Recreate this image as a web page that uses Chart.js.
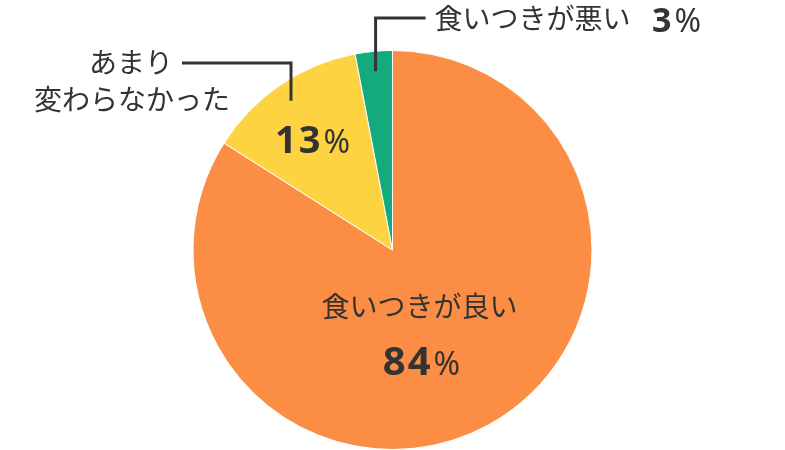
<!DOCTYPE html>
<html lang="ja">
<head>
  <meta charset="UTF-8">
  <title>食いつき</title>
  <script src="https://cdn.jsdelivr.net/npm/chart.js"></script>
  <style>
    html, body { margin: 0; padding: 0; background: #fff; }
    #wrap { width: 785px; height: 450px; position: relative; }
  </style>
</head>
<body>
<div id="wrap"><canvas id="pie"></canvas></div>

<script>
  // data
  const labels = ['食いつきが良い', 'あまり変わらなかった', '食いつきが悪い'];
  const values = [84, 13, 3];
  const colors = ['#FC8D45', '#FDD342', '#13AA7D'];

  const textColor = '#333333';
  const jpFont = '"Noto Sans CJK JP", "Noto Sans", sans-serif';
  const numFont = '"Noto Sans", "Open Sans", sans-serif';

  // number in bold + smaller "%" sitting on the same baseline, centred on x
  function drawValue(ctx, value, x, baseline, numSize, pctSize) {
    const num = String(value);
    ctx.letterSpacing = '2px';
    ctx.font = `bold ${numSize}px ${numFont}`;
    const wNum = ctx.measureText(num).width;
    ctx.letterSpacing = '0px';
    ctx.font = `${pctSize}px ${numFont}`;
    const wPct = ctx.measureText('%').width;
    const gap = 1;
    const left = x - (wNum + gap + wPct) / 2;
    ctx.textAlign = 'left';
    ctx.textBaseline = 'alphabetic';
    ctx.letterSpacing = '2px';
    ctx.font = `bold ${numSize}px ${numFont}`;
    ctx.fillText(num, left, baseline);
    ctx.letterSpacing = '0px';
    ctx.font = `${pctSize}px ${numFont}`;
    ctx.fillText('%', left + wNum + gap, baseline);
  }

  function midPoint(arc, ratio) {
    const a = (arc.startAngle + arc.endAngle) / 2;
    const r = arc.outerRadius * ratio;
    return { x: arc.x + Math.cos(a) * r, y: arc.y + Math.sin(a) * r };
  }

  const labelPlugin = {
    id: 'pieLabels',
    afterDraw(chart) {
      const ctx = chart.ctx;
      const arcs = chart.getDatasetMeta(0).data;
      ctx.save();
      ctx.fillStyle = textColor;
      ctx.strokeStyle = textColor;
      ctx.lineWidth = 3;
      ctx.lineCap = 'butt';
      ctx.lineJoin = 'miter';

      // big slice: label inside
      const a0 = arcs[0];
      ctx.font = `28px ${jpFont}`;
      ctx.textAlign = 'center';
      ctx.textBaseline = 'middle';
      ctx.fillText(labels[0], a0.x + 27, a0.y + 56);
      drawValue(ctx, values[0], a0.x + 29, a0.y + 125, 40, 32);

      // middle slice: value inside, label outside with leader
      const a1 = arcs[1];
      const p1 = midPoint(a1, 0.74);
      drawValue(ctx, values[1], p1.x + 3, p1.y + 25, 38, 32);
      const l1 = midPoint(a1, 0.905);
      ctx.beginPath();
      ctx.moveTo(l1.x, l1.y);
      ctx.lineTo(l1.x, a1.y - 187);
      ctx.lineTo(182, a1.y - 187);
      ctx.stroke();
      ctx.font = `28px ${jpFont}`;
      ctx.textAlign = 'center';
      ctx.textBaseline = 'middle';
      ctx.fillText('あまり', 131, a1.y - 188);
      ctx.fillText('変わらなかった', 132, a1.y - 151);

      // small slice: label outside with leader
      const a2 = arcs[2];
      const l2 = midPoint(a2, 0.9);
      ctx.beginPath();
      ctx.moveTo(l2.x, l2.y);
      ctx.lineTo(l2.x, a2.y - 232);
      ctx.lineTo(l2.x + 50, a2.y - 232);
      ctx.stroke();
      ctx.font = `28px ${jpFont}`;
      ctx.textAlign = 'left';
      ctx.textBaseline = 'middle';
      ctx.fillText(labels[2], l2.x + 59, a2.y - 232);
      const wLab = ctx.measureText(labels[2]).width;
      drawValue(ctx, values[2], l2.x + 59 + wLab + 46, a2.y - 218, 34, 32);

      ctx.restore();
    }
  };

  new Chart(document.getElementById('pie').getContext('2d'), {
    type: 'pie',
    data: {
      labels: labels,
      datasets: [{
        data: values,
        backgroundColor: colors,
        borderColor: '#ffffff',
        borderWidth: 1
      }]
    },
    options: {
      responsive: true,
      maintainAspectRatio: false,
      animation: false,
      layout: { padding: { top: 50, bottom: 0, left: 0, right: 0 } },
      plugins: {
        legend: { display: false },
        tooltip: { enabled: false }
      }
    },
    plugins: [labelPlugin]
  });
</script>
</body>
</html>
